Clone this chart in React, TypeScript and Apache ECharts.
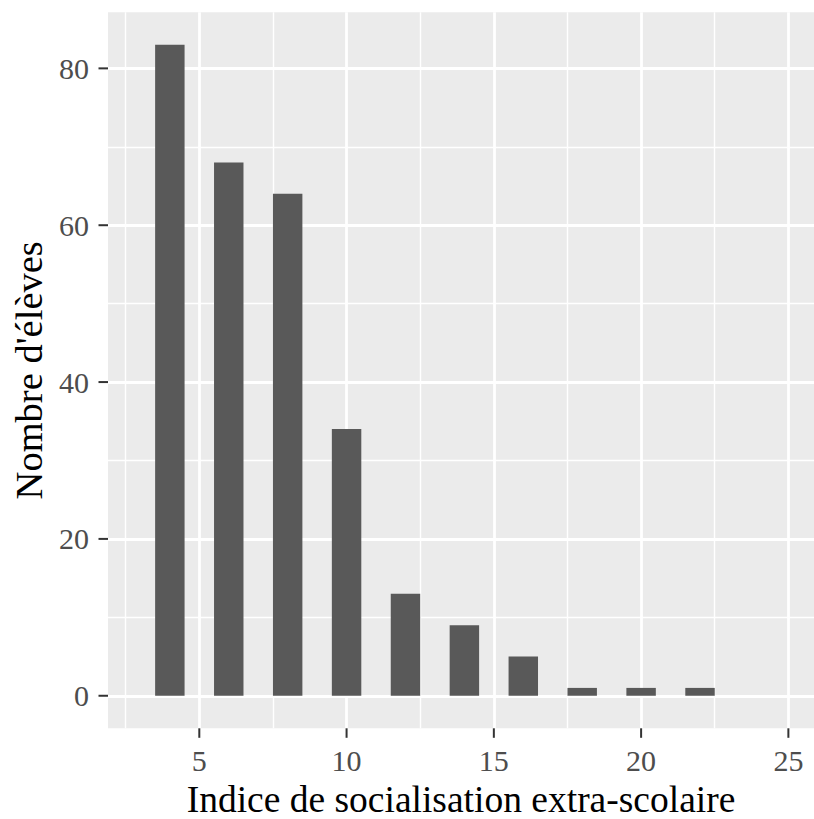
import React, { useEffect, useRef } from 'react';
import * as echarts from 'echarts';

const scoreValues = [4, 6, 8, 10, 12, 14, 16, 18, 20, 22];
const studentCounts = [83, 68, 64, 34, 13, 9, 5, 1, 1, 1];
const xMajorTicks = [5, 10, 15, 20, 25];
const xMinorTicks = [2.5, 7.5, 12.5, 17.5, 22.5];
const yMajorTicks = [0, 20, 40, 60, 80];
const yMinorTicks = [10, 30, 50, 70];
const xTitle = 'Indice de socialisation extra-scolaire';
const yTitle = "Nombre d'élèves";
const binWidth = 1;

const FONT = "'Liberation Serif', 'Times New Roman', serif";
const X_MIN = 1.9;
const X_MAX = 25.87;
const Y_MIN = -4.15;
const Y_MAX = 87.15;
const TICK_LEN = 9.5;
const TICK_COLOR = '#333333';

export default function App() {
  const ref = useRef<HTMLDivElement>(null);
  useEffect(() => {
    if (!ref.current) return;
    const chart = echarts.init(ref.current, undefined, { renderer: 'svg' });
    const data = scoreValues.map((v, i) => [v, studentCounts[i]]);
    const minorSplit = { show: true, lineStyle: { color: '#FFFFFF', width: 1.4 } };
    chart.setOption({
      animation: false,
      grid: {
        left: 108,
        right: 0,
        top: 12.3,
        bottom: 90.7,
        show: true,
        backgroundColor: '#EBEBEB',
        borderWidth: 0,
        containLabel: false,
        outerBoundsMode: 'none',
      },
      xAxis: [
        {
          type: 'value',
          position: 'bottom',
          min: X_MIN,
          max: X_MAX,
          name: xTitle,
          nameLocation: 'middle',
          nameGap: 54.5,
          nameTextStyle: { fontFamily: FONT, fontSize: 37.5, lineHeight: 30, color: '#000000' },
          axisLine: { show: false, onZero: false },
          axisTick: { show: false, customValues: xMajorTicks },
          axisLabel: {
            customValues: xMajorTicks,
            margin: 17,
            fontFamily: FONT,
            fontSize: 30,
            color: '#4D4D4D',
          },
          splitLine: { show: true, lineStyle: { color: '#FFFFFF', width: 2.8 } },
        },
        {
          type: 'value',
          position: 'top',
          min: X_MIN,
          max: X_MAX,
          axisLine: { show: false, onZero: false },
          axisTick: { show: false, customValues: xMinorTicks },
          axisLabel: { show: false, customValues: xMinorTicks },
          splitLine: minorSplit,
        },
      ],
      yAxis: [
        {
          type: 'value',
          position: 'left',
          min: Y_MIN,
          max: Y_MAX,
          name: yTitle,
          nameLocation: 'middle',
          nameGap: 60,
          nameTextStyle: { fontFamily: FONT, fontSize: 38.5, color: '#000000' },
          axisLine: { show: false, onZero: false },
          axisTick: { show: false, customValues: yMajorTicks },
          axisLabel: {
            customValues: yMajorTicks,
            margin: 19,
            fontFamily: FONT,
            fontSize: 30,
            color: '#4D4D4D',
          },
          splitLine: { show: true, lineStyle: { color: '#FFFFFF', width: 2.8 } },
        },
        {
          type: 'value',
          position: 'right',
          min: Y_MIN,
          max: Y_MAX,
          axisLine: { show: false, onZero: false },
          axisTick: { show: false, customValues: yMinorTicks },
          axisLabel: { show: false, customValues: yMinorTicks },
          splitLine: minorSplit,
        },
      ],
      series: [
        {
          type: 'custom',
          xAxisIndex: 0,
          yAxisIndex: 0,
          encode: { x: 0, y: 1 },
          data,
          renderItem: (params: any, api: any) => {
            const x = api.value(0);
            const y = api.value(1);
            const p0 = api.coord([x - binWidth / 2, y]);
            const p1 = api.coord([x + binWidth / 2, 0]);
            return {
              type: 'rect',
              shape: { x: p0[0], y: p0[1], width: p1[0] - p0[0], height: p1[1] - p0[1] },
              style: { fill: '#595959' },
            };
          },
        },
      ],
    });

    const tickEls: any[] = [];
    xMajorTicks.forEach((v) => {
      const p = chart.convertToPixel({ gridIndex: 0 }, [v, Y_MIN]) as number[];
      tickEls.push({
        type: 'line',
        z: 100,
        silent: true,
        shape: { x1: p[0], y1: p[1], x2: p[0], y2: p[1] + TICK_LEN },
        style: { stroke: TICK_COLOR, lineWidth: 2 },
      });
    });
    yMajorTicks.forEach((v) => {
      const p = chart.convertToPixel({ gridIndex: 0 }, [X_MIN, v]) as number[];
      tickEls.push({
        type: 'line',
        z: 100,
        silent: true,
        shape: { x1: p[0] - TICK_LEN, y1: p[1], x2: p[0], y2: p[1] },
        style: { stroke: TICK_COLOR, lineWidth: 2 },
      });
    });
    chart.setOption({ graphic: tickEls });

    return () => chart.dispose();
  }, []);
  return (
    <div
      ref={ref}
      style={{ position: 'absolute', left: 0, top: 0, width: 814, height: 819 }}
    />
  );
}
